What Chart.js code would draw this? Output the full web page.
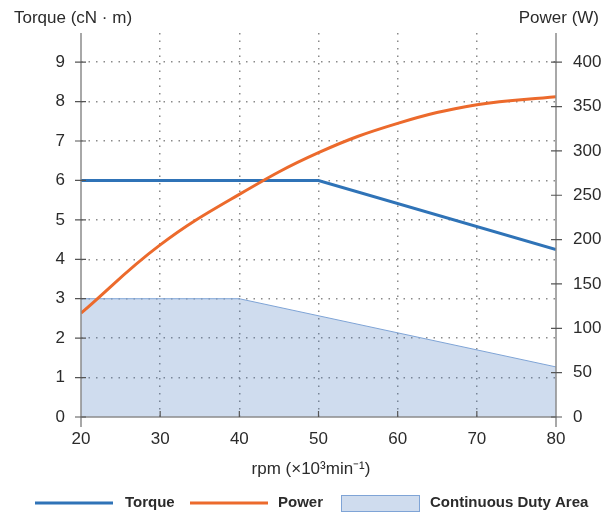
<!DOCTYPE html>
<html>
<head>
<meta charset="utf-8">
<script src="https://cdn.jsdelivr.net/npm/chart.js@4"></script>
<style>
  html, body { margin: 0; padding: 0; background: #fff; }
  #wrap { width: 602px; height: 515px; }
</style>
</head>
<body>
<div id="wrap"><canvas id="motor"></canvas></div>
<script>
// data
const rpmTicks = [20, 30, 40, 50, 60, 70, 80];
const torqueRpm = [20, 50, 80];
const torqueValues = [6, 6, 4.25];
const powerRpm = [20, 30, 40, 50, 60, 70, 80];
const powerValues = [117, 194, 251, 298, 331, 352, 361];
const dutyRpm = [20, 40, 80];
const dutyValues = [3, 3, 1.27];
const torqueTicks = [0, 1, 2, 3, 4, 5, 6, 7, 8, 9];
const powerTicks = [0, 50, 100, 150, 200, 250, 300, 350, 400];

const TORQUE_MAX = 9.74;
const POWER_MAX = TORQUE_MAX * 400 / 9;

const BLUE = '#2f73b7';
const ORANGE = '#ec6a2c';
const FILL = '#cfdcee';
// same tint as FILL over white, but lets the dotted grid show through
const FILL_SEE_THROUGH = 'rgba(70, 120, 190, 0.26)';
const FILL_EDGE = '#7fa4d6';
const AXIS = '#8c8c8c';
const GRID = '#8a8a8a';
const TEXT = '#2b2b2b';
const FONT = '"Liberation Sans", Arial, sans-serif';

const toPoints = (xs, ys) => xs.map((x, i) => ({ x: x, y: ys[i] }));

// titles, axis lines, small tick marks and the legend
const decorations = {
  id: 'decorations',
  afterDraw(chart) {
    const { ctx, chartArea: a, scales } = chart;
    ctx.save();

    // axis lines
    ctx.strokeStyle = AXIS;
    ctx.lineWidth = 1.5;
    ctx.beginPath();
    ctx.moveTo(a.left, a.top); ctx.lineTo(a.left, a.bottom + 10);
    ctx.moveTo(a.right, a.top); ctx.lineTo(a.right, a.bottom + 10);
    ctx.moveTo(a.left, a.bottom); ctx.lineTo(a.right, a.bottom);
    ctx.stroke();

    // tick marks
    ctx.strokeStyle = '#555';
    ctx.lineWidth = 1.2;
    ctx.beginPath();
    torqueTicks.forEach((v) => {
      const y = scales.y.getPixelForValue(v);
      ctx.moveTo(a.left - 6, y); ctx.lineTo(a.left + 5, y);
    });
    powerTicks.forEach((v) => {
      const y = scales.y1.getPixelForValue(v);
      ctx.moveTo(a.right - 5, y); ctx.lineTo(a.right + 6, y);
    });
    rpmTicks.slice(1, -1).forEach((v) => {
      const x = scales.x.getPixelForValue(v);
      ctx.moveTo(x, a.bottom); ctx.lineTo(x, a.bottom - 6);
    });
    ctx.stroke();

    // axis titles
    ctx.fillStyle = TEXT;
    ctx.font = '17px ' + FONT;
    ctx.textBaseline = 'middle';
    ctx.textAlign = 'left';
    ctx.fillText('Torque (cN · m)', 14, 18);
    ctx.textAlign = 'right';
    ctx.fillText('Power (W)', 599, 18);
    ctx.textAlign = 'center';
    ctx.fillText('rpm (×10³min⁻¹)', 311, 469);

    // legend
    const ly = 503;
    ctx.lineWidth = 3;
    ctx.strokeStyle = BLUE;
    ctx.beginPath(); ctx.moveTo(35, ly); ctx.lineTo(113, ly); ctx.stroke();
    ctx.strokeStyle = ORANGE;
    ctx.beginPath(); ctx.moveTo(190, ly); ctx.lineTo(268, ly); ctx.stroke();
    ctx.fillStyle = FILL;
    ctx.fillRect(341, 495, 79, 17);
    ctx.strokeStyle = FILL_EDGE;
    ctx.lineWidth = 1;
    ctx.strokeRect(341.5, 495.5, 78, 16);

    ctx.fillStyle = TEXT;
    ctx.font = 'bold 15px ' + FONT;
    ctx.textAlign = 'left';
    ctx.fillText('Torque', 125, ly);
    ctx.fillText('Power', 278, ly);
    ctx.fillText('Continuous Duty Area', 430, ly);
    ctx.restore();
  }
};

const gridDots = {
  lineWidth: 1.5,
  drawTicks: false,
};
const dotted = { display: false, dash: [1.5, 6] };

new Chart(document.getElementById('motor'), {
  type: 'line',
  data: {
    datasets: [
      {
        label: 'Power',
        data: toPoints(powerRpm, powerValues),
        yAxisID: 'y1',
        borderColor: ORANGE,
        borderWidth: 3,
        pointRadius: 0,
        tension: 0.4,
        fill: false,
      },
      {
        label: 'Torque',
        data: toPoints(torqueRpm, torqueValues),
        yAxisID: 'y',
        borderColor: BLUE,
        borderWidth: 3,
        pointRadius: 0,
        tension: 0,
        fill: false,
      },
      {
        label: 'Continuous Duty Area',
        data: toPoints(dutyRpm, dutyValues),
        yAxisID: 'y',
        borderColor: FILL_EDGE,
        backgroundColor: FILL_SEE_THROUGH,
        borderWidth: 1,
        pointRadius: 0,
        tension: 0,
        fill: 'origin',
      },
    ],
  },
  options: {
    responsive: true,
    maintainAspectRatio: false,
    animation: false,
    layout: { padding: { top: 33 } },
    plugins: {
      legend: { display: false },
      tooltip: { enabled: false },
    },
    scales: {
      x: {
        type: 'linear',
        min: 20,
        max: 80,
        afterFit: (s) => { s.height = 98; },
        afterBuildTicks: (s) => { s.ticks = rpmTicks.map((v) => ({ value: v })); },
        border: dotted,
        grid: { ...gridDots, color: (c) => (c.tick.value === 20 || c.tick.value === 80 ? 'rgba(0,0,0,0)' : GRID) },
        ticks: { color: TEXT, font: { family: FONT, size: 17 }, padding: 12, maxRotation: 0 },
      },
      y: {
        position: 'left',
        min: 0,
        max: TORQUE_MAX,
        afterFit: (s) => { s.width = 81; },
        afterBuildTicks: (s) => { s.ticks = torqueTicks.map((v) => ({ value: v })); },
        border: dotted,
        grid: { ...gridDots, color: (c) => (c.tick.value === 0 ? 'rgba(0,0,0,0)' : GRID) },
        ticks: { color: TEXT, font: { family: FONT, size: 17 }, padding: 16 },
      },
      y1: {
        position: 'right',
        min: 0,
        max: POWER_MAX,
        afterFit: (s) => { s.width = 46; },
        afterBuildTicks: (s) => { s.ticks = powerTicks.map((v) => ({ value: v })); },
        border: { display: false },
        grid: { display: false },
        ticks: { color: TEXT, font: { family: FONT, size: 17 }, padding: 9 },
      },
    },
  },
  plugins: [decorations],
});
</script>
</body>
</html>
